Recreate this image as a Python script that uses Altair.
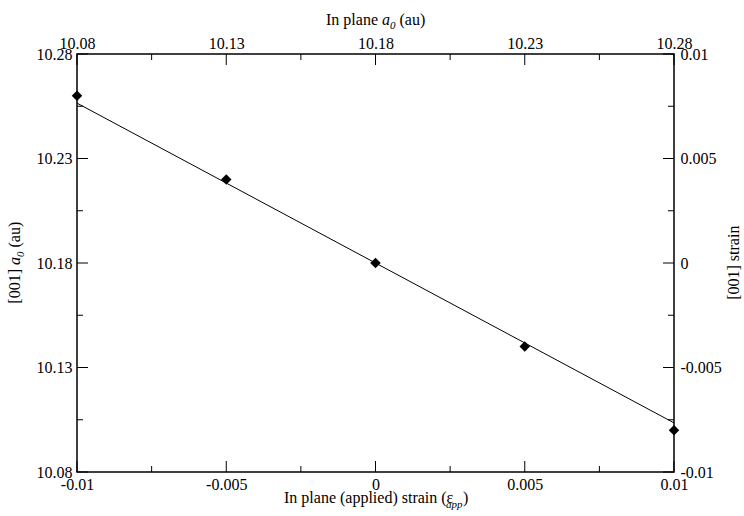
import json
import altair as alt
import pandas as pd

# ---------------- data ----------------
STRAIN = [-0.01, -0.005, 0.0, 0.005, 0.01]          # in-plane applied strain
A0_001 = [10.26, 10.22, 10.18, 10.14, 10.10]          # [001] a0 (au)
FIT_STRAIN = [-0.01, 0.01]
FIT_A0 = [10.2565, 10.1035]

X_TICKS = [-0.01, -0.005, 0.0, 0.005, 0.01]
X_MINOR = [-0.0075, -0.0025, 0.0025, 0.0075]
X_LABELS = ["-0.01", "-0.005", "0", "0.005", "0.01"]
TOP_LABELS = ["10.08", "10.13", "10.18", "10.23", "10.28"]

Y_TICKS = [10.08, 10.13, 10.18, 10.23, 10.28]
Y_MINOR = [10.105, 10.155, 10.205, 10.255]
Y_LABELS = ["10.08", "10.13", "10.18", "10.23", "10.28"]
RIGHT_LABELS = ["-0.01", "-0.005", "0", "0.005", "0.01"]

W, H = 597, 418
MAJOR, MINOR = 11, 6
FONT = "'Liberation Serif', 'Times New Roman', Times, serif"

pts = pd.DataFrame({"strain": STRAIN, "a0": A0_001})
fit = pd.DataFrame({"strain": FIT_STRAIN, "a0": FIT_A0})

xs = alt.Scale(domain=[-0.01, 0.01], nice=False, zero=False)
ys = alt.Scale(domain=[10.08, 10.28], nice=False, zero=False)


def label_expr(values, labels):
    return f"{json.dumps(labels)}[indexof({json.dumps(values)}, datum.value)]"


def axis(orient, values, labels, pad):
    return alt.Axis(
        orient=orient, values=values, labelExpr=label_expr(values, labels),
        ticks=False, domain=False, grid=False, title=None,
        labelFont=FONT, labelFontSize=16, labelColor="black",
        labelPadding=pad, labelFlush=False, labelOverlap=False,
    )


points = alt.Chart(pts).mark_point(
    shape="diamond", filled=True, size=110, color="black", opacity=1
).encode(
    x=alt.X("strain:Q", scale=xs, axis=axis("bottom", X_TICKS, X_LABELS, 4)),
    y=alt.Y("a0:Q", scale=ys, axis=axis("left", Y_TICKS, Y_LABELS, 5)),
)

line = alt.Chart(fit).mark_line(color="black", strokeWidth=1).encode(
    x=alt.X("strain:Q", scale=xs, axis=axis("top", X_TICKS, TOP_LABELS, 3)),
    y=alt.Y("a0:Q", scale=ys, axis=axis("right", Y_TICKS, RIGHT_LABELS, 6)),
)

# inward ticks on all four sides
tick_layers = []
for vals, length in [(X_TICKS, MAJOR), (X_MINOR, MINOR)]:
    d = pd.DataFrame({"strain": vals})
    for y0, y1 in [(H, H - length), (0, length)]:
        tick_layers.append(
            alt.Chart(d).mark_rule(color="black", strokeWidth=1).encode(
                x=alt.X("strain:Q", scale=xs, axis=None),
                y=alt.value(y0), y2=alt.value(y1),
            )
        )
for vals, length in [(Y_TICKS, MAJOR), (Y_MINOR, MINOR)]:
    d = pd.DataFrame({"a0": vals})
    for x0, x1 in [(0, length), (W, W - length)]:
        tick_layers.append(
            alt.Chart(d).mark_rule(color="black", strokeWidth=1).encode(
                y=alt.Y("a0:Q", scale=ys, axis=None),
                x=alt.value(x0), x2=alt.value(x1),
            )
        )


def piece(text, x, y, dx=0, dy=0, angle=0, italic=False, size=16, align="left"):
    kw = dict(align=align, baseline="alphabetic", font=FONT, fontSize=size,
              fontStyle="italic" if italic else "normal", dx=dx, dy=dy, color="black")
    if angle:
        kw["angle"] = angle
    return alt.Chart(pd.DataFrame({"t": [text]})).mark_text(**kw).encode(
        x=alt.value(x), y=alt.value(y), text="t:N"
    )


titles = []
# top title: In plane a_0 (au)
tx, ty = 326 - 77, 25 - 54
titles += [
    piece("In plane", tx, ty),
    piece("a", tx, ty, dx=56, italic=True),
    piece("0", tx, ty, dx=64, dy=4, italic=True, size=11),
    piece("(au)", tx, ty, dx=73.5),
]
# bottom title: In plane (applied) strain (ε_app)
bx, by = 284 - 77, 503 - 54
titles += [
    piece("In plane (applied) strain (\u03b5", bx, by),
    piece("app", bx, by, dx=162, dy=5, italic=True, size=11),
    piece(")", bx, by, dx=179),
]
# left title: [001] a_0 (au)
lx, ly = 20 - 77, 303.7 - 54
titles += [
    piece("[001]", lx, ly, angle=270),
    piece("a", lx, ly, dx=38.7, angle=270, italic=True),
    piece("0", lx, ly, dx=46.7, dy=4, angle=270, italic=True, size=11),
    piece("(au)", lx, ly, dx=56.2, angle=270),
]
# right title
titles.append(piece("[001] strain", 739 - 77, 262.7 - 54, angle=270, align="center"))

chart = alt.layer(line, points, *tick_layers, *titles).resolve_axis(
    x="independent", y="independent"
).properties(
    width=W, height=H,
    autosize=alt.AutoSizeParams(type="none"),
    padding={"left": 77, "top": 54, "right": 70, "bottom": 44},
    background="white",
).configure_view(stroke="black", strokeWidth=1.5)

chart.save("out.html", embed_options={"renderer": "svg", "actions": False})
